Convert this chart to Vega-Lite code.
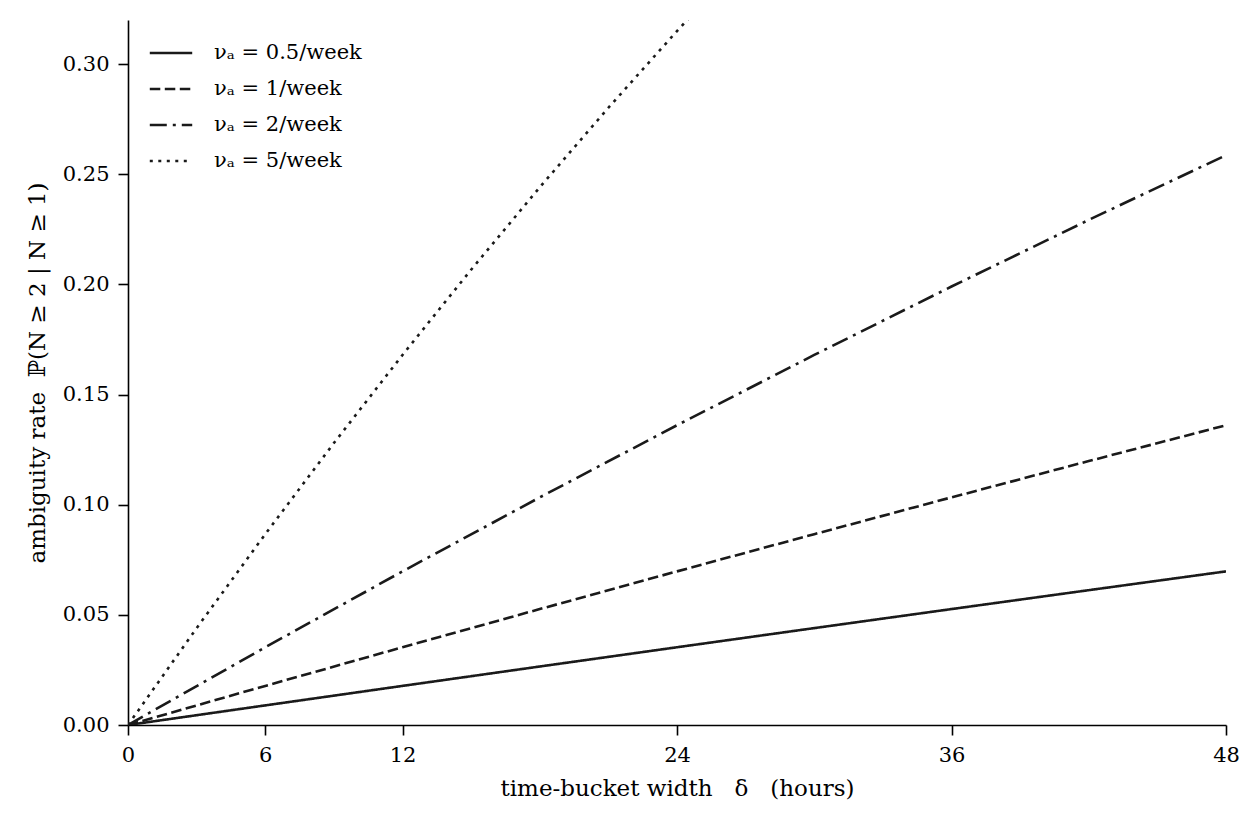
{
  "$schema": "https://vega.github.io/schema/vega-lite/v6.json",
  "width": 1098,
  "height": 705,
  "autosize": "none",
  "padding": {"left": 128, "top": 20, "right": 34, "bottom": 99},
  "background": "white",
  "data": {
    "values": [
      {"delta": 0, "p": 0, "series": "νₐ = 0.5/week"},
      {"delta": 6, "p": 0.00890, "series": "νₐ = 0.5/week"},
      {"delta": 12, "p": 0.01775, "series": "νₐ = 0.5/week"},
      {"delta": 18, "p": 0.02655, "series": "νₐ = 0.5/week"},
      {"delta": 24, "p": 0.03529, "series": "νₐ = 0.5/week"},
      {"delta": 30, "p": 0.04398, "series": "νₐ = 0.5/week"},
      {"delta": 36, "p": 0.05262, "series": "νₐ = 0.5/week"},
      {"delta": 42, "p": 0.06120, "series": "νₐ = 0.5/week"},
      {"delta": 48, "p": 0.06973, "series": "νₐ = 0.5/week"},
      {"delta": 0, "p": 0, "series": "νₐ = 1/week"},
      {"delta": 6, "p": 0.01775, "series": "νₐ = 1/week"},
      {"delta": 12, "p": 0.03529, "series": "νₐ = 1/week"},
      {"delta": 18, "p": 0.05262, "series": "νₐ = 1/week"},
      {"delta": 24, "p": 0.06973, "series": "νₐ = 1/week"},
      {"delta": 30, "p": 0.08663, "series": "νₐ = 1/week"},
      {"delta": 36, "p": 0.10332, "series": "νₐ = 1/week"},
      {"delta": 42, "p": 0.11980, "series": "νₐ = 1/week"},
      {"delta": 48, "p": 0.13606, "series": "νₐ = 1/week"},
      {"delta": 0, "p": 0, "series": "νₐ = 2/week"},
      {"delta": 6, "p": 0.03529, "series": "νₐ = 2/week"},
      {"delta": 12, "p": 0.06973, "series": "νₐ = 2/week"},
      {"delta": 18, "p": 0.10332, "series": "νₐ = 2/week"},
      {"delta": 24, "p": 0.13606, "series": "νₐ = 2/week"},
      {"delta": 30, "p": 0.16796, "series": "νₐ = 2/week"},
      {"delta": 36, "p": 0.19903, "series": "νₐ = 2/week"},
      {"delta": 42, "p": 0.22925, "series": "νₐ = 2/week"},
      {"delta": 48, "p": 0.25865, "series": "νₐ = 2/week"},
      {"delta": 0, "p": 0, "series": "νₐ = 5/week"},
      {"delta": 3, "p": 0.04398, "series": "νₐ = 5/week"},
      {"delta": 6, "p": 0.08663, "series": "νₐ = 5/week"},
      {"delta": 9, "p": 0.12796, "series": "νₐ = 5/week"},
      {"delta": 12, "p": 0.16796, "series": "νₐ = 5/week"},
      {"delta": 15, "p": 0.20666, "series": "νₐ = 5/week"},
      {"delta": 18, "p": 0.24406, "series": "νₐ = 5/week"},
      {"delta": 21, "p": 0.28016, "series": "νₐ = 5/week"},
      {"delta": 24, "p": 0.31498, "series": "νₐ = 5/week"},
      {"delta": 27, "p": 0.34855, "series": "νₐ = 5/week"}
    ]
  },
  "mark": {"type": "line", "clip": true, "strokeWidth": 2.6, "color": "#1a1a1a"},
  "encoding": {
    "x": {
      "field": "delta",
      "type": "quantitative",
      "scale": {"domain": [0, 48], "nice": false, "zero": true},
      "axis": {"values": [0, 6, 12, 24, 36, 48], "title": "time-bucket width \u00a0\u00a0δ\u00a0\u00a0 (hours)", "grid": false, "labelPadding": 9, "titlePadding": 12}
    },
    "y": {
      "field": "p",
      "type": "quantitative",
      "scale": {"domain": [0, 0.32], "nice": false},
      "axis": {"values": [0, 0.05, 0.1, 0.15, 0.2, 0.25, 0.3], "format": ".2f", "title": "ambiguity rate \u00a0ℙ(N ≥ 2 | N ≥ 1)", "grid": false, "labelPadding": 9, "titlePadding": 13}
    },
    "strokeDash": {
      "field": "series",
      "type": "nominal",
      "scale": {
        "domain": ["νₐ = 0.5/week", "νₐ = 1/week", "νₐ = 2/week", "νₐ = 5/week"],
        "range": [[1, 0], [10.5, 4.5], [17, 6, 3, 6], [3, 5.5]]
      },
      "legend": {
        "title": null,
        "orient": "none",
        "legendX": 20,
        "legendY": 10,
        "symbolType": "stroke",
        "symbolSize": 1800,
        "symbolStrokeWidth": 2.6,
        "symbolStrokeColor": "#1a1a1a",
        "rowPadding": 3,
        "labelOffset": 20,
        "labelFontSize": 21,
        "labelFont": "DejaVu Serif",
        "labelColor": "#000"
      }
    }
  },
  "config": {
    "view": {"stroke": null},
    "font": "DejaVu Serif",
    "axis": {
      "domainColor": "#000",
      "domainWidth": 1.6,
      "tickColor": "#000",
      "tickWidth": 1.6,
      "tickSize": 10,
      "labelFlush": false,
      "labelFont": "DejaVu Serif",
      "labelFontSize": 21,
      "labelColor": "#000",
      "titleFont": "DejaVu Serif",
      "titleFontSize": 23,
      "titleFontWeight": "normal",
      "titleColor": "#000"
    }
  }
}
